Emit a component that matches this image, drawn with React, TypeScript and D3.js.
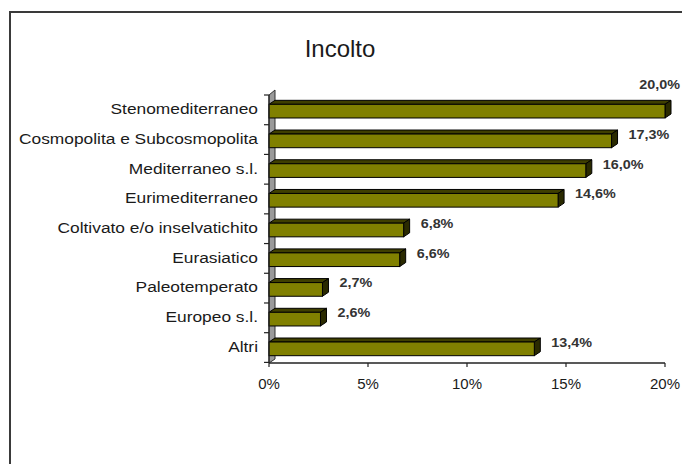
import React from "react";
import * as d3 from "d3";

const categories = [
  "Stenomediterraneo",
  "Cosmopolita e Subcosmopolita",
  "Mediterraneo s.l.",
  "Eurimediterraneo",
  "Coltivato e/o inselvatichito",
  "Eurasiatico",
  "Paleotemperato",
  "Europeo s.l.",
  "Altri",
];
const values = [20.0, 17.3, 16.0, 14.6, 6.8, 6.6, 2.7, 2.6, 13.4];
const tickValues = [0, 5, 10, 15, 20];
const title = "Incolto";

const W = 682;
const H = 464;
const DX = 6;
const DY = 4;
const FONT = "'Liberation Sans', Arial, Helvetica, sans-serif";

export default function App() {
  const x = d3.scaleLinear().domain([0, 20]).range([269, 665]);
  const y = d3
    .scaleBand<string>()
    .domain(categories)
    .range([96, 364])
    .paddingInner(0.54)
    .paddingOuter(0.28);
  const x0 = x(0);
  const x1 = x(20);
  const yTop = y.range()[0] - 1;
  const yBot = y.range()[1] - 1;
  const bw = y.bandwidth();
  const step = y.step();
  const fmt = d3.format(".1f");
  const lab = (v: number) => fmt(v).replace(".", ",") + "%";
  const boundaries = d3.range(categories.length + 1).map((k) => yTop + k * step);

  return (
    <svg
      width={W}
      height={H}
      style={{ position: "absolute", left: 0, top: 0, background: "#fff" }}
      fontFamily={FONT}
    >
      <rect x={0} y={0} width={W} height={H} fill="#fff" />
      <rect x={10} y={12} width={720} height={520} fill="#fff" stroke="#3a3a3a" strokeWidth={2} />
      <text x={340} y={57} textAnchor="middle" fontSize={24} fill="#1a1a1a">
        {title}
      </text>

      {/* floor */}
      <polygon
        points={`${x0},${yBot} ${x1},${yBot} ${x1 + DX},${yBot - DY} ${x0 + DX},${yBot - DY}`}
        fill="#fff"
      />
      {/* wall */}
      <polygon
        points={`${x0},${yTop} ${x0 + DX},${yTop - DY - 1} ${x0 + DX},${yBot - DY} ${x0},${yBot}`}
        fill="#9a9a9a"
        stroke="#333"
        strokeWidth={1}
      />

      {/* y ticks */}
      {boundaries.map((b, i) => (
        <line key={"yt" + i} x1={x0 - 5} x2={x0} y1={b} y2={b} stroke="#222" strokeWidth={1.2} />
      ))}

      {/* bars */}
      {categories.map((c, i) => {
        const v = values[i];
        const by = y(c) as number;
        const xv = x(v);
        return (
          <g key={c}>
            <polygon
              points={`${x0},${by} ${xv},${by} ${xv + DX},${by - DY} ${x0 + DX},${by - DY}`}
              fill="#3f3f00"
              stroke="#000"
              strokeWidth={1}
              strokeLinejoin="round"
            />
            <polygon
              points={`${xv},${by} ${xv + DX},${by - DY} ${xv + DX},${by + bw - DY} ${xv},${by + bw}`}
              fill="#2a2a00"
              stroke="#000"
              strokeWidth={1}
              strokeLinejoin="round"
            />
            <rect x={x0} y={by} width={xv - x0} height={bw} fill="#808000" stroke="#000" strokeWidth={1} />
          </g>
        );
      })}

      {/* axes */}
      <line x1={x0} x2={x1} y1={yBot} y2={yBot} stroke="#222" strokeWidth={1.5} />
      <line x1={x0} x2={x0} y1={yTop} y2={yBot} stroke="#222" strokeWidth={1.2} />
      {tickValues.map((t) => (
        <g key={"xt" + t}>
          <line x1={x(t)} x2={x(t)} y1={yBot} y2={yBot + 4} stroke="#222" strokeWidth={1.2} />
          <text x={x(t)} y={yBot + 26} textAnchor="middle" fontSize={15} fill="#1a1a1a">
            {t + "%"}
          </text>
        </g>
      ))}

      {/* category labels */}
      {categories.map((c) => {
        const cy = (y(c) as number) + bw / 2 + 3;
        return (
          <text
            key={"cl" + c}
            transform={`translate(258,${cy}) scale(1.12,1)`}
            textAnchor="end"
            fontSize={15.5}
            fill="#1a1a1a"
          >
            {c}
          </text>
        );
      })}

      {/* value labels */}
      {categories.map((c, i) => {
        const v = values[i];
        const by = y(c) as number;
        const lx = x(v) + DX + 11;
        const txt = lab(v);
        const estW = txt.length * 8;
        const overflow = lx + estW > W - 2;
        const tx = overflow ? W - 2 : lx;
        const ty = overflow ? by - DY - 11 : by + bw / 2 - 2;
        return (
          <text
            key={"vl" + c}
            transform={`translate(${tx},${ty}) scale(1.15,1)`}
            textAnchor={overflow ? "end" : "start"}
            fontSize={12.5}
            fontWeight="bold"
            fill="#333"
          >
            {txt}
          </text>
        );
      })}
    </svg>
  );
}
